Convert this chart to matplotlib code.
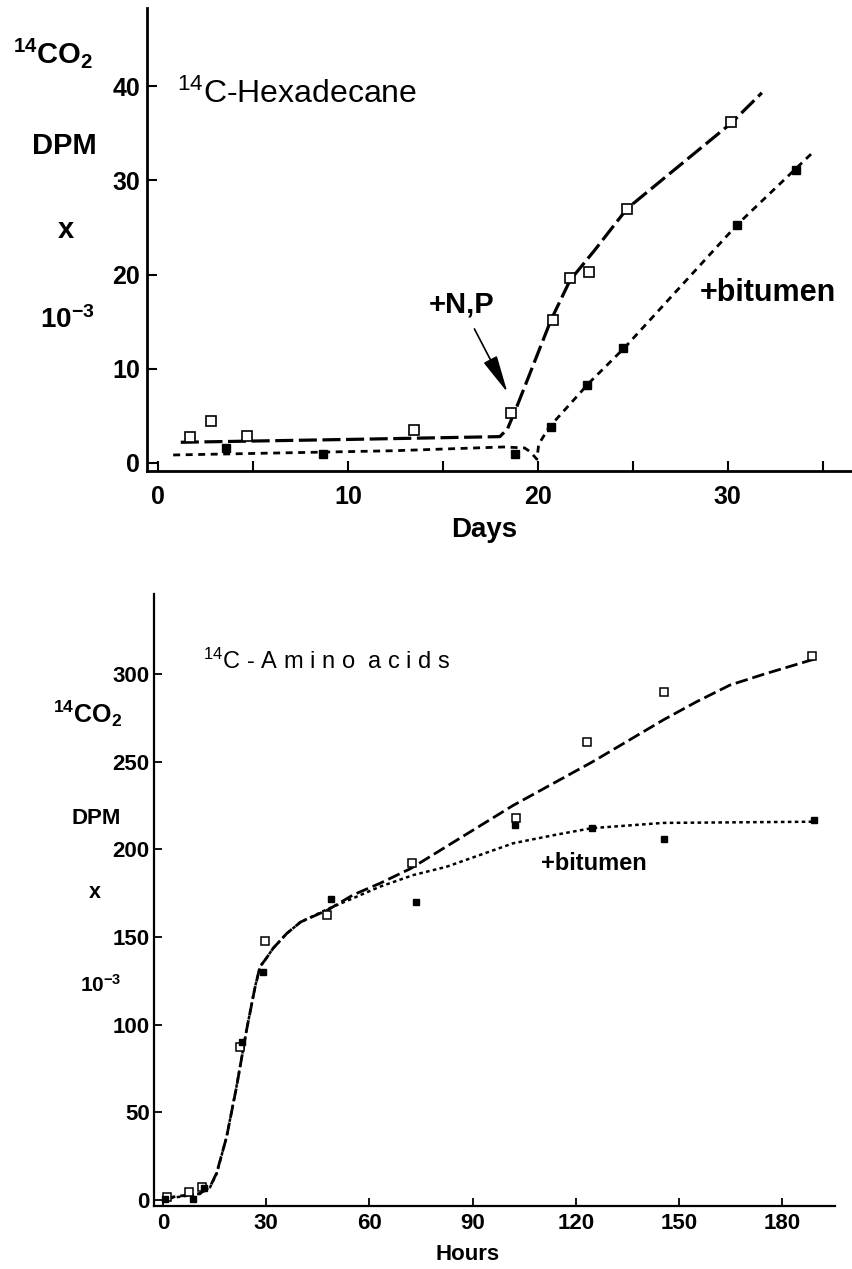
import matplotlib

matplotlib.use("Agg")
import matplotlib.pyplot as plt
from matplotlib.ticker import MultipleLocator

plt.rcParams["font.family"] = ["Liberation Sans", "DejaVu Sans"]
plt.rcParams["mathtext.fontset"] = "custom"
plt.rcParams["mathtext.rm"] = "Liberation Sans"
plt.rcParams["mathtext.bf"] = "Liberation Sans:bold"
plt.rcParams["mathtext.it"] = "Liberation Sans:italic"
plt.rcParams["lines.scale_dashes"] = False

# --- top panel: 14C-hexadecane (days) ---
hex_days_ctrl = [1.7, 2.8, 4.7, 13.5, 18.6, 20.8, 21.7, 22.7, 24.7, 30.2]
hex_dpm_ctrl = [2.8, 4.5, 2.9, 3.5, 5.3, 15.2, 19.6, 20.3, 27.0, 36.2]
hex_days_bit = [3.6, 8.7, 18.8, 20.7, 22.6, 24.5, 30.5, 33.6]
hex_dpm_bit = [1.6, 1.0, 1.0, 3.8, 8.3, 12.2, 25.3, 31.1]
# hand-drawn fitted curves
hex_curve_ctrl_x = [1.2, 10.0, 18.0, 18.4, 18.9, 20.7, 21.7, 23.0, 24.7, 27.6, 30.2, 31.8]
hex_curve_ctrl_y = [2.2, 2.5, 2.8, 3.6, 6.0, 15.2, 19.4, 22.6, 27.0, 31.8, 36.1, 39.3]
hex_curve_bit_x = [0.8, 12.4, 18.2, 19.3, 19.6, 19.95, 20.05, 20.6, 22.7, 24.6, 30.5, 34.5]
hex_curve_bit_y = [0.85, 1.3, 1.7, 1.6, 1.2, 0.4, 2.0, 3.8, 8.5, 12.3, 25.3, 33.0]

# --- bottom panel: 14C-amino acids (hours) ---
aa_hours_ctrl = [1.1, 7.6, 11.3, 22.4, 29.7, 47.6, 72.3, 102.6, 123.2, 145.7, 188.6]
aa_dpm_ctrl = [1.7, 4.6, 7.6, 87.4, 147.8, 162.5, 192.0, 218.0, 261.3, 289.4, 310.0]
aa_hours_bit = [0.6, 8.6, 12.0, 22.9, 29.2, 48.8, 73.5, 102.3, 124.6, 145.7, 189.3]
aa_dpm_bit = [0.6, 0.8, 7.0, 90.3, 129.8, 171.4, 170.0, 213.8, 211.9, 205.8, 216.6]
aa_curve_ctrl_x = [0, 10.8, 13.7, 15.6, 18.5, 21.4, 24.3, 26.7, 28.2, 30.1, 32, 36, 40, 48,
                   55.3, 63, 72, 101.8, 125, 145.4, 155, 164.8, 175, 190]
aa_curve_ctrl_y = [1.0, 3.8, 7.6, 15.4, 36, 64.6, 96.9, 120.7, 133, 138, 143.5, 152, 158.5, 165.5,
                   174, 180.5, 189, 225, 250, 273.7, 284, 293.6, 300, 308.8]
aa_curve_bit_x = [0, 10.8, 13.7, 15.6, 18.5, 21.4, 24.3, 26.7, 28.2, 30.1, 32, 36, 40, 48,
                  56, 63, 72.8, 82.4, 101.8, 113.5, 124.6, 145.4, 190]
aa_curve_bit_y = [0.5, 3.5, 7.3, 15, 36, 65, 97, 121, 133, 138, 143.5, 152, 158.5, 166,
                  172.7, 178.6, 185.3, 190, 203.4, 208, 212, 215, 215.7]

W, H = 853, 1269
fig = plt.figure(figsize=(W / 100, H / 100), dpi=100)


def px(x, y):
    return x / W, 1 - y / H


def axes_px(left, top, right, bottom):
    return fig.add_axes([left / W, 1 - bottom / H, (right - left) / W, (bottom - top) / H])


def style_axes(ax, spine_lw):
    ax.spines[["top", "right"]].set_visible(False)
    for side in ("left", "bottom"):
        ax.spines[side].set_linewidth(spine_lw)
    ax.patch.set_alpha(0)


# top panel
ax1 = axes_px(147, 8, 853, 471)
ax1.set_xlim(-0.58, 36.6)
ax1.set_ylim(-0.85, 48.3)
style_axes(ax1, 2.0)
ax1.plot(hex_curve_ctrl_x, hex_curve_ctrl_y, color="black", lw=2.3, dashes=(13, 4))
ax1.plot(hex_curve_bit_x, hex_curve_bit_y, color="black", lw=2.0, dashes=(5, 4))
ax1.plot(hex_days_ctrl, hex_dpm_ctrl, "s", ms=7, mfc="white", mec="black", mew=1.2, zorder=4)
ax1.plot(hex_days_bit, hex_dpm_bit, "s", ms=5.5, mfc="black", mec="black", zorder=4)
ax1.set_xticks([0, 10, 20, 30])
ax1.xaxis.set_minor_locator(MultipleLocator(5))
ax1.set_yticks([0, 10, 20, 30, 40])
ax1.tick_params(which="both", direction="in", length=7, width=1.5)
ax1.tick_params(axis="x", pad=10, labelsize=18)
ax1.tick_params(axis="y", pad=5, labelsize=18)
for lab in ax1.get_xticklabels() + ax1.get_yticklabels():
    lab.set_fontweight("bold")
ax1.annotate("+N,P", xy=(18.4, 7.5), xytext=(16.0, 16.8), ha="center", va="center",
             fontsize=21, fontweight="bold",
             arrowprops=dict(arrowstyle="-|>,head_length=1.1,head_width=0.22", color="black",
                             lw=1.2, shrinkA=6, shrinkB=0))

# bottom panel
ax2 = axes_px(154, 594, 835, 1206)
ax2.set_xlim(-2.6, 195.3)
ax2.set_ylim(-3.4, 345.5)
style_axes(ax2, 1.6)
ax2.plot(aa_curve_ctrl_x, aa_curve_ctrl_y, color="black", lw=2.0, dashes=(9, 3.5))
ax2.plot(aa_curve_bit_x, aa_curve_bit_y, color="black", lw=1.8, dashes=(2.6, 2.4))
ax2.plot(aa_hours_ctrl, aa_dpm_ctrl, "s", ms=5.5, mfc="white", mec="black", mew=1.1, zorder=4)
ax2.plot(aa_hours_bit, aa_dpm_bit, "s", ms=4.3, mfc="black", mec="black", zorder=4)
ax2.set_xticks([0, 30, 60, 90, 120, 150, 180])
ax2.set_yticks([0, 50, 100, 150, 200, 250, 300])
ax2.tick_params(direction="in", length=6, width=1.3, labelsize=16)
ax2.tick_params(axis="x", pad=5)
ax2.tick_params(axis="y", pad=3)
for lab in ax2.get_xticklabels() + ax2.get_yticklabels():
    lab.set_fontweight("bold")

# labels for the top panel
fig.text(*px(13, 63), r"$\mathbf{^{14}CO_2}$", fontsize=21, ha="left", va="baseline")
fig.text(*px(64, 146), "DPM", fontsize=21, fontweight="bold", ha="center", va="center")
fig.text(*px(66, 230), "x", fontsize=21, fontweight="bold", ha="center", va="center")
fig.text(*px(40, 328), r"$\mathbf{10^{-3}}$", fontsize=20, ha="left", va="baseline")
fig.text(*px(177, 103), r"$^{14}$C-Hexadecane", fontsize=23, ha="left", va="baseline")
fig.text(*px(768, 293), "+bitumen", fontsize=22, fontweight="bold", ha="center", va="center")
fig.text(*px(484, 530), "Days", fontsize=20, fontweight="bold", ha="center", va="center")

# labels for the bottom panel
sp = "\u2009\u200a"
fig.text(*px(53, 723), r"$\mathbf{^{14}CO_2}$", fontsize=18, ha="left", va="baseline")
fig.text(*px(96, 818), "DPM", fontsize=16, fontweight="bold", ha="center", va="center")
fig.text(*px(95, 892), "x", fontsize=15.5, fontweight="bold", ha="center", va="center")
fig.text(*px(80, 992), r"$\mathbf{10^{-3}}$", fontsize=15, ha="left", va="baseline")
fig.text(*px(203, 669), r"$^{14}$C" + sp + "-" + sp + sp.join("Amino") + "  " + sp.join("acids"),
         fontsize=17, ha="left", va="baseline")
fig.text(*px(594, 864), "+bitumen", fontsize=17, fontweight="bold", ha="center", va="center")
fig.text(*px(468, 1255), "Hours", fontsize=16, fontweight="bold", ha="center", va="center")

fig.savefig("out.png", dpi=100, facecolor="white")
